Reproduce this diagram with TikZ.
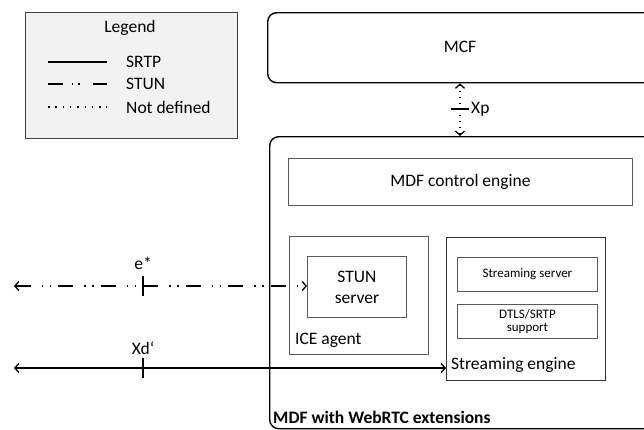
\documentclass[tikz,border=0pt]{standalone}
\usepackage{fontspec}
\setmainfont{Carlito}
\usetikzlibrary{arrows.meta}
\begin{document}
\begin{tikzpicture}[x=1pt,y=-1pt,
  box/.style={draw=black!65, line width=0.9pt, inner sep=0pt, anchor=north west},
  bigbox/.style={draw=black, line width=1.4pt, rounded corners=9pt, inner sep=0pt, anchor=north west},
  txt/.style={font=\fontsize{17.5}{21}\selectfont, inner sep=0pt, align=center},
  small/.style={font=\fontsize{13}{13.5}\selectfont, inner sep=0pt, align=center},
  srtp/.style={line width=1.5pt},
  stun/.style={line width=1.5pt, dash pattern=on 15pt off 11pt on 1.5pt off 6.5pt on 1.5pt off 7pt},
  undef/.style={line width=1.5pt, dash pattern=on 1.5pt off 4.5pt},
  tick/.style={line width=2pt},
  tip/.tip={Straight Barb[length=4pt,width=9pt,line width=1.3pt]}
]
\useasboundingbox (0,0) rectangle (644,429);
\begin{scope}
\clip (0,0) rectangle (644,429);

% Legend
\node[draw=black!75, fill=black!5, line width=1pt, minimum width=212, minimum height=126, inner sep=0pt, anchor=north west] (legend) at (25,12) {};
\node[txt] (legtitle) at (130,28) {Legend};
\coordinate (l1a) at (48,62);  \coordinate (l1b) at (107,62);
\coordinate (l2a) at (48,84);  \coordinate (l2b) at (107,84);
\coordinate (l3a) at (48,107); \coordinate (l3b) at (107,107);
\draw[srtp] (l1a) -- (l1b);
\draw[line width=1.5pt, dash pattern=on 15pt off 8.5pt on 1.5pt off 5pt on 1.5pt off 13pt on 15pt off 100pt] (l2a) -- (l2b);
\draw[line width=1.5pt, dash pattern=on 1.5pt off 5.8pt] (l3a) -- (l3b);
\node[txt, anchor=west] (t1) at (126,62) {SRTP};
\node[txt, anchor=west] (t2) at (126,84) {STUN};
\node[txt, anchor=west] (t3) at (126,107) {Not defined};

% MCF
\node[bigbox, minimum width=400, minimum height=70] (mcf) at (267,12) {};
\node[txt] (mcft) at (460,47) {MCF};

% MDF outer
\node[bigbox, minimum width=400, minimum height=292] (mdf) at (269,136) {};
\node[txt, anchor=west, font=\fontsize{17.5}{20}\selectfont\bfseries] (mdft) at (273,417) {MDF with WebRTC extensions};

% Xp
\coordinate (xpx) at (460,0);
\draw[undef, tip-tip] (mcf.south -| xpx) -- (mdf.north -| xpx);
\coordinate (xpl) at (451,109); \coordinate (xpr) at (469,109);
\draw[line width=1.5pt] (xpl) -- (xpr);
\node[txt, anchor=west] (xpt) at (471,109) {Xp};

% control engine
\node[box, minimum width=344, minimum height=47] (ctl) at (288,158) {};
\node[txt] (ctlt) at (ctl.center) {MDF control engine};

% ICE agent
\node[box, minimum width=139, minimum height=118] (ice) at (289,236) {};
\node[box, minimum width=99, minimum height=61] (stun) at (307,256) {};
\node[txt] (stunt) at (stun.center) {STUN\\server};
\node[txt, anchor=west] (icet) at (295,340) {ICE agent};

% Streaming engine
\node[box, draw=black!80, minimum width=159, minimum height=143] (se) at (446,237) {};
\node[box, minimum width=140, minimum height=34] (ss) at (457,257) {};
\node[small] (sst) at (ss.center) {Streaming server};
\node[box, minimum width=140, minimum height=34] (dtls) at (457,304) {};
\node[small] (dtlst) at (dtls.center) {DTLS/SRTP\\support};
\node[txt, anchor=west] (set) at (451,365) {Streaming engine};

% e*
\coordinate (eL) at (14,286);
\draw[stun, tip-tip] (eL) -- (eL -| stun.west);
\coordinate (et1) at (143,276); \coordinate (et2) at (143,296);
\draw[tick] (et1) -- (et2);
\node[txt] (elab) at (143,263) {e*};

% Xd'
\coordinate (xL) at (14,368);
\draw[srtp, tip-tip] (xL) -- (xL -| se.west);
\coordinate (xt1) at (143,358); \coordinate (xt2) at (143,378);
\draw[tick] (xt1) -- (xt2);
\node[txt] (xlab) at (143,348) {Xd\textquoteleft};
\end{scope}
\end{tikzpicture}
\end{document}
